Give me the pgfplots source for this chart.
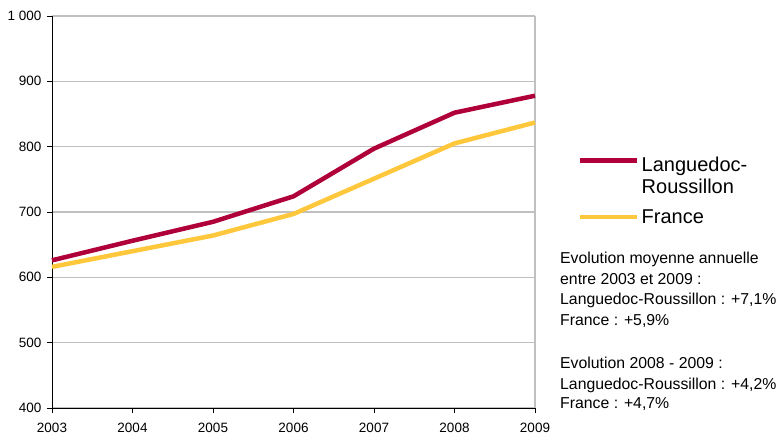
\documentclass[border=0pt]{standalone}
\usepackage{fontspec}
\setmainfont{Liberation Sans}
\usepackage{pgfplots}
\pgfplotsset{compat=1.18}
\definecolor{lr}{HTML}{B0003A}
\definecolor{fr}{HTML}{FFC83C}
\definecolor{gridc}{HTML}{C0C0C0}
\pgfplotsset{lrlegend/.style={legend image code/.code={\draw[##1] (0pt,15pt) -- (57pt,15pt);}}}
\begin{document}
\begin{tikzpicture}[x=1pt,y=1pt]
\useasboundingbox (0,0) rectangle (778,437);
\begin{axis}[
  at={(52pt,29pt)}, anchor=south west,
  scale only axis, width=483pt, height=392pt,
  xmin=2003, xmax=2009, ymin=400, ymax=1000,
  xtick={2003,2004,2005,2006,2007,2008,2009},
  xticklabels={2003,2004,2005,2006,2007,2008,2009},
  ytick={400,500,600,700,800,900,1000},
  yticklabels={400,500,600,700,800,900,1 000},
  /pgf/number format/assume math mode=true,
  tick label style={font=\fontsize{13.5}{15}\selectfont},
  x tick label style={yshift=-7pt},
  y tick label style={xshift=-2pt},
  axis x line*=bottom, axis y line*=left,
  axis line style={black, line width=0.8pt, -},
  tick style={black, line width=0.8pt},
  tick align=outside, major tick length=5pt,
  ymajorgrids, major grid style={gridc, line width=1.5pt},
  extra x ticks={2009}, extra x tick labels={},
  extra x tick style={xmajorgrids=true, major tick length=0pt},
  clip=false,
  legend style={at={(1.089,0.647)}, anchor=north west, draw=none, fill=none,
    font=\fontsize{20}{22}\selectfont, cells={anchor=west, align=left},
    inner sep=0pt, row sep=11pt},
  legend image code/.code={\draw[#1] (0pt,0pt) -- (57pt,0pt);},
]
\addplot[lr, line width=4.5pt, lrlegend] coordinates {(2003,626) (2004,656) (2005,685) (2006,724) (2007,797) (2008,852) (2009,878)};
\addlegendentry{Languedoc-\\Roussillon}
\addplot[fr, line width=4.5pt] coordinates {(2003,616) (2004,640) (2005,664) (2006,697) (2007,751) (2008,805) (2009,837)};
\addlegendentry{France}
\end{axis}
\begin{scope}[every node/.style={anchor=base west, inner sep=0pt, font=\fontsize{15.8}{19}\selectfont}]
\node at (560,174) {Evolution moyenne annuelle};
\node at (560,153) {entre 2003 et 2009 :};
\node at (560,132.5) {Languedoc-Roussillon : +7,1\%};
\node at (560,111.5) {France : +5,9\%};
\node at (560,69) {Evolution 2008 - 2009 :};
\node at (560,48) {Languedoc-Roussillon : +4,2\%};
\node at (560,28.5) {France : +4,7\%};
\end{scope}
\end{tikzpicture}
\end{document}
